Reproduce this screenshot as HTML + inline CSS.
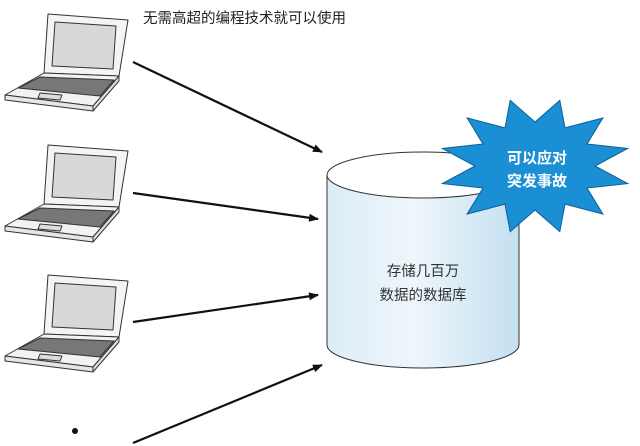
<!DOCTYPE html>
<html><head><meta charset="utf-8"><style>
html,body{margin:0;padding:0;background:#fff;width:640px;height:446px;overflow:hidden}
svg{display:block}
text{font-family:"Liberation Sans","Noto Sans CJK SC",sans-serif}
</style></head><body>
<svg width="640" height="446" viewBox="0 0 640 446" xmlns="http://www.w3.org/2000/svg">
<defs>
<linearGradient id="cyl" x1="0" x2="1" y1="0" y2="0">
<stop offset="0" stop-color="#dcecf6"/><stop offset="0.45" stop-color="#eef6fb"/><stop offset="1" stop-color="#c4e0f1"/>
</linearGradient>
<marker id="ah" markerWidth="10" markerHeight="8" refX="9" refY="4" orient="auto" markerUnits="userSpaceOnUse">
<path d="M0,0 L10,4 L0,8 z" fill="#111"/>
</marker>
<g id="lap" stroke="#333" stroke-width="1" stroke-linejoin="round">
<polygon points="48,14 128,20 119,76 44,73" fill="#f4f4f4"/>
<polygon points="55,22 116,26 113,69 52,66" fill="#d8d8d8"/>
<polygon points="44,73 119,76 93,106 5,95" fill="#f2f2f2"/>
<polygon points="5,95 93,106 93,111 5,100" fill="#e6e6e6"/>
<polygon points="93,106 119,76 119,81 93,111" fill="#e0e0e0"/>
<polygon points="40,77 114,80 100,96 18,88" fill="#777"/>
<polygon points="40,93 62,95 60,100 38,98" fill="#ddd"/>
</g>
</defs>
<use href="#lap"/>
<use href="#lap" y="131"/>
<use href="#lap" y="261"/>
<text x="143" y="23" font-size="14.5" fill="#222">无需高超的编程技术就可以使用</text>
<g stroke="#111" stroke-width="2.2" marker-end="url(#ah)">
<line x1="133" y1="62" x2="322" y2="152"/>
<line x1="133" y1="193" x2="318" y2="219"/>
<line x1="133" y1="322" x2="318" y2="295"/>
<line x1="133" y1="443" x2="322" y2="365"/>
</g>
<circle cx="75" cy="431" r="3" fill="#111"/>
<path d="M327,175 L327,345 A96,23 0 0 0 519,345 L519,175" fill="url(#cyl)" stroke="#333" stroke-width="1"/>
<ellipse cx="423" cy="175" rx="96" ry="23" fill="#fff" stroke="#333" stroke-width="1"/>
<polygon id="star" fill="#1a8fd4" stroke="#0d5f97" stroke-width="1"/>
<text x="423" y="276" font-size="14.5" fill="#333" text-anchor="middle">存储几百万</text>
<text x="423" y="300" font-size="14.5" fill="#333" text-anchor="middle">数据的数据库</text>
<text x="537" y="163" font-size="15" fill="#fff" text-anchor="middle" font-weight="bold">可以应对</text>
<text x="537" y="186" font-size="15" fill="#fff" text-anchor="middle" font-weight="bold">突发事故</text>
</svg>
<script>
var p=[],cx=535,cy=166,n=12;
for(var i=0;i<2*n;i++){var a=Math.PI*i/n-Math.PI/2+Math.PI/12;var o=i%2==0;var rx=o?96:60,ry=o?68:44;p.push((cx+rx*Math.cos(a)).toFixed(1)+","+(cy+ry*Math.sin(a)).toFixed(1));}
document.getElementById("star").setAttribute("points",p.join(" "));
</script>
</body></html>
